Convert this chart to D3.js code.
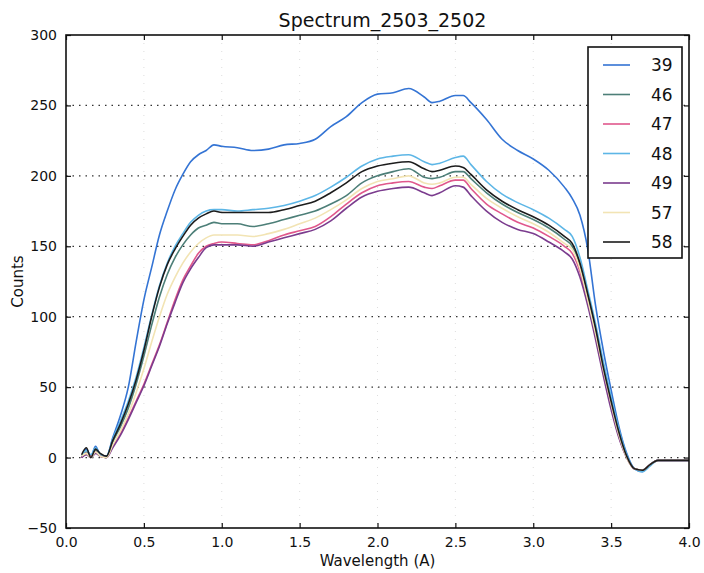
<!DOCTYPE html>
<html>
<head>
<meta charset="utf-8">
<script src="https://cdn.jsdelivr.net/npm/d3@7"></script>
<style>
  body { margin: 0; background: #fff; }
  text { font-family: "DejaVu Sans", sans-serif; fill: #111; }
</style>
</head>
<body>
<div class="spectrum-chart"></div>
<script>
//wavelength samples (A)
const wavelengths = [0.10, 0.13, 0.16, 0.19, 0.22, 0.26, 0.30, 0.35, 0.40, 0.45,
    0.50, 0.55, 0.60, 0.65, 0.70, 0.75, 0.80, 0.85, 0.90, 0.95,
    1.00, 1.10, 1.20, 1.30, 1.40, 1.50, 1.60, 1.70, 1.80, 1.90,
    2.00, 2.10, 2.20, 2.30, 2.35, 2.40, 2.50, 2.55, 2.60, 2.70,
    2.80, 2.90, 3.00, 3.10, 3.20, 3.25, 3.30, 3.35, 3.40, 3.45,
    3.50, 3.55, 3.60, 3.65, 3.70, 3.75, 3.80, 3.90, 4.00];

//series names, in drawing order
const seriesNames = ['39', '46', '47', '48', '49', '57', '58'];

//counts, one value per wavelength
const counts39 = [0, 6, 1, 8, 2, 1, 14, 30, 50, 82,
    112, 135, 158, 175, 190, 201, 210, 215, 218, 222,
    221, 220, 218, 219, 222, 223, 226, 235, 242, 252,
    258, 259, 262, 256, 252, 253, 257, 257, 252, 240,
    226, 218, 212, 204, 192, 184, 172, 148, 108, 76,
    48, 22, 3, -8, -10, -5, -2, -2, -2];
const counts46 = [0, 4, 1, 5, 1, 0, 11, 22, 35, 52,
    72, 94, 114, 130, 142, 151, 158, 163, 165, 167,
    166, 166, 164, 166, 169, 172, 175, 180, 186, 195,
    200, 203, 205, 199, 198, 199, 203, 203, 198, 188,
    180, 174, 169, 163, 155, 150, 136, 114, 90, 63,
    39, 17, 1, -8, -9, -5, -2, -2, -2];
const counts47 = [0, 3, 1, 4, 1, 0, 8, 17, 28, 40,
    52, 66, 80, 96, 112, 126, 136, 145, 150, 152,
    153, 152, 151, 154, 158, 161, 164, 171, 180, 188,
    193, 195, 196, 192, 191, 193, 197, 197, 191, 180,
    173, 167, 163, 157, 150, 145, 132, 110, 86, 60,
    36, 15, 0, -8, -9, -5, -2, -2, -2];
const counts48 = [1, 5, 2, 7, 2, 1, 13, 26, 40, 57,
    78, 101, 122, 138, 150, 159, 167, 172, 175, 176,
    176, 175, 176, 177, 179, 182, 186, 192, 199, 207,
    212, 214, 215, 210, 208, 209, 213, 214, 208, 196,
    187, 181, 176, 170, 162, 157, 142, 119, 95, 68,
    43, 20, 2, -8, -10, -6, -2, -2, -2];
const counts49 = [0, 2, 0, 3, 1, 0, 7, 16, 27, 39,
    51, 65, 79, 95, 110, 124, 134, 142, 149, 151,
    151, 151, 150, 153, 156, 159, 162, 168, 177, 185,
    189, 191, 192, 188, 186, 188, 193, 192, 186, 175,
    167, 162, 159, 153, 146, 141, 128, 108, 84, 58,
    34, 14, 0, -8, -9, -5, -2, -2, -2];
const counts57 = [1, 3, 0, 4, 1, 0, 9, 19, 31, 46,
    63, 82, 100, 116, 128, 138, 146, 152, 156, 158,
    158, 158, 157, 159, 162, 166, 170, 176, 183, 191,
    196, 198, 200, 195, 194, 195, 199, 199, 194, 184,
    177, 171, 166, 160, 152, 148, 134, 112, 88, 62,
    38, 16, 0, -8, -9, -5, -2, -2, -2];
const counts58 = [2, 7, 0, 6, 3, 1, 12, 24, 38, 55,
    76, 100, 121, 137, 148, 157, 165, 170, 173, 175,
    174, 174, 174, 174, 176, 179, 182, 188, 195, 203,
    207, 209, 210, 205, 203, 204, 207, 206, 201, 190,
    182, 176, 171, 165, 157, 152, 138, 116, 92, 64,
    40, 18, 1, -8, -9, -5, -2, -2, -2];

//axis tick values
const xTicks = [0.0, 0.5, 1.0, 1.5, 2.0, 2.5, 3.0, 3.5, 4.0];
const yTicks = [-50, 0, 50, 100, 150, 200, 250, 300];

const allCounts = [counts39, counts46, counts47, counts48, counts49, counts57, counts58];
//washed out versions of the classic b g r c m y k cycle
const colors = ['#3474d4', '#4d7f78', '#e0588c', '#5db6e6', '#7b3c8e', '#f2e4b4', '#1c1c1c'];

const series = seriesNames.map((name, i) => ({
    name: name,
    color: colors[i],
    values: wavelengths.map((w, j) => ({ w: w, c: allCounts[i][j] }))
}));

//creates the svg element
const width = 704;
const height = 573;
const margin = { top: 35, right: 15, bottom: 45, left: 66 };

const svg = d3.select('.spectrum-chart')
    .append('svg')
    .attr('width', width)
    .attr('height', height);

const x = d3.scaleLinear().domain([0, 4]).range([margin.left, width - margin.right]);
const y = d3.scaleLinear().domain([-50, 300]).range([height - margin.bottom, margin.top]);

//dotted grid
svg.append('g')
    .selectAll('line')
    .data(yTicks.slice(1, -1))
    .enter()
    .append('line')
    .attr('x1', margin.left)
    .attr('x2', width - margin.right)
    .attr('y1', d => y(d))
    .attr('y2', d => y(d))
    .attr('stroke', '#333')
    .attr('stroke-width', 1.2)
    .attr('stroke-dasharray', '1.5,5');

svg.append('g')
    .selectAll('line')
    .data(xTicks.slice(1, -1))
    .enter()
    .append('line')
    .attr('x1', d => x(d))
    .attr('x2', d => x(d))
    .attr('y1', margin.top)
    .attr('y2', height - margin.bottom)
    .attr('stroke', '#ddd')
    .attr('stroke-width', 1)
    .attr('stroke-dasharray', '1,7');

//draws the spectrum lines
const line = d3.line()
    .x(d => x(d.w))
    .y(d => y(d.c))
    .curve(d3.curveMonotoneX);

svg.append('g')
    .selectAll('path')
    .data(series)
    .enter()
    .append('path')
    .attr('d', d => line(d.values))
    .attr('fill', 'none')
    .attr('stroke', d => d.color)
    .attr('stroke-width', 1.6)
    .attr('stroke-linejoin', 'round');

//axes, ticks pointing inwards on all four sides
const bottomAxis = d3.axisBottom(x).tickValues(xTicks).tickFormat(d3.format('.1f')).tickSizeInner(-5).tickSizeOuter(0).tickPadding(9);
const topAxis = d3.axisTop(x).tickValues(xTicks).tickFormat('').tickSizeInner(-5).tickSizeOuter(0);
const leftAxis = d3.axisLeft(y).tickValues(yTicks).tickSizeInner(-5).tickSizeOuter(0).tickPadding(9);
const rightAxis = d3.axisRight(y).tickValues(yTicks).tickFormat('').tickSizeInner(-5).tickSizeOuter(0);

const gb = svg.append('g').attr('transform', `translate(0,${height - margin.bottom})`).call(bottomAxis);
const gt = svg.append('g').attr('transform', `translate(0,${margin.top})`).call(topAxis);
const gl = svg.append('g').attr('transform', `translate(${margin.left},0)`).call(leftAxis);
const gr = svg.append('g').attr('transform', `translate(${width - margin.right},0)`).call(rightAxis);

[gb, gt, gl, gr].forEach(g => {
    g.select('.domain').remove();
    g.selectAll('line').attr('stroke', '#111').attr('stroke-width', 1.2);
    g.selectAll('text').attr('font-size', 14).attr('font-family', '"DejaVu Sans", sans-serif').attr('fill', '#111');
});

//frame
svg.append('rect')
    .attr('x', margin.left)
    .attr('y', margin.top)
    .attr('width', width - margin.left - margin.right)
    .attr('height', height - margin.top - margin.bottom)
    .attr('fill', 'none')
    .attr('stroke', '#111')
    .attr('stroke-width', 1.6);

//title and axis labels
svg.append('text')
    .text('Spectrum_2503_2502')
    .attr('x', (margin.left + width - margin.right) / 2 + 5)
    .attr('y', 27)
    .attr('text-anchor', 'middle')
    .attr('font-size', 19);

svg.append('text')
    .text('Wavelength (A)')
    .attr('x', (margin.left + width - margin.right) / 2)
    .attr('y', 566)
    .attr('text-anchor', 'middle')
    .attr('font-size', 15);

svg.append('text')
    .text('Counts')
    .attr('transform', `translate(23,${(margin.top + height - margin.bottom) / 2}) rotate(-90)`)
    .attr('text-anchor', 'middle')
    .attr('font-size', 15);

//legend
const legend = svg.append('g').attr('transform', 'translate(588,47)');

legend.append('rect')
    .attr('width', 94)
    .attr('height', 211)
    .attr('fill', '#fff')
    .attr('stroke', '#111')
    .attr('stroke-width', 1.6);

const rows = legend.selectAll('g.row')
    .data(series)
    .enter()
    .append('g')
    .attr('class', 'row')
    .attr('transform', (d, i) => `translate(0,${18 + i * 29.5})`);

rows.append('line')
    .attr('x1', 15)
    .attr('x2', 42)
    .attr('stroke', d => d.color)
    .attr('stroke-width', 1.6);

rows.append('text')
    .text(d => d.name)
    .attr('x', 63)
    .attr('y', 6)
    .attr('font-size', 17);
</script>
</body>
</html>
